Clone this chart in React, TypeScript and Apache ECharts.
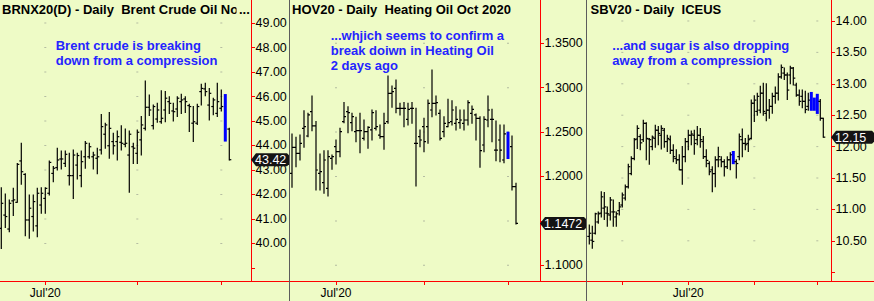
import React, { useEffect, useRef } from 'react';
import * as echarts from 'echarts';

// Daily bars: [open, high, low, close]
type Bar = [number, number, number, number];

// ICE Brent Crude Nov 2020 (BRNX20), 16 Jun 2020 – 3 Sep 2020
const brentBars: Bar[] = [
  [40.62, 42.28, 39.8, 41.64], [41.16, 42.02, 40.65, 41.1], [40.59, 41.78, 40.48, 41.64], [41.74, 42.25, 41.14, 41.78],
  [41.68, 43.27, 41.68, 43.23], [43.37, 44.09, 42.42, 42.93], [42.82, 42.85, 40.32, 40.96], [40.96, 41.98, 40.21, 41.44],
  [41.1, 41.98, 40.51, 41.71], [40.72, 42.25, 40.28, 42.05], [41.57, 42.28, 41.23, 42.05], [41.84, 42.28, 41.23, 42.25],
  [42.05, 43.37, 41.98, 43.31], [42.86, 43.14, 42.52, 43.07], [43.1, 43.89, 43.0, 43.41], [43.45, 43.78, 43.04, 43.45],
  [43.27, 43.78, 43.14, 43.64], [42.77, 43.68, 42.39, 42.77], [42.77, 43.82, 41.84, 43.61], [43.2, 43.68, 42.63, 43.59],
  [42.77, 43.78, 42.32, 43.34], [43.54, 44.16, 43.07, 44.09], [43.54, 44.09, 43.48, 43.95], [43.54, 43.72, 43.04, 43.61],
  [43.48, 43.89, 42.85, 43.54], [43.82, 45.27, 43.65, 44.77], [44.46, 44.91, 43.89, 44.84], [43.99, 45.35, 43.48, 44.7],
  [44.16, 44.5, 43.65, 43.99], [44.16, 44.59, 43.41, 44.36], [44.13, 44.81, 43.82, 44.09], [44.05, 44.67, 43.95, 44.09],
  [43.61, 44.59, 42.09, 44.46], [43.95, 44.09, 43.27, 43.89], [43.68, 44.63, 43.27, 44.54], [44.23, 45.18, 43.61, 44.84],
  [44.7, 46.63, 44.63, 45.56], [45.56, 46.06, 45.22, 45.45], [44.81, 45.65, 44.67, 45.59], [45.08, 45.72, 44.95, 45.45],
  [44.97, 46.23, 44.91, 45.11], [45.45, 46.2, 44.97, 45.93], [45.79, 45.99, 45.31, 45.72], [45.41, 45.72, 45.0, 45.38],
  [45.49, 45.99, 45.18, 45.93], [45.79, 46.09, 45.31, 45.86], [45.9, 45.99, 45.35, 45.79], [45.63, 45.68, 44.57, 45.59],
  [44.91, 45.59, 44.16, 44.97], [44.91, 45.68, 44.86, 45.59], [46.2, 46.5, 45.65, 46.33], [46.31, 46.54, 46.03, 46.2],
  [45.65, 46.33, 45.04, 46.13], [45.59, 45.93, 45.25, 45.86], [45.31, 46.54, 45.18, 45.79], [45.52, 46.27, 45.41, 45.59],
  [46.05, 46.1, 44.16, 44.2], [44.67, 44.7, 43.41, 43.42],
];

// NYMEX Heating Oil Oct 2020 (HOV20), 16 Jun 2020 – 3 Sep 2020
const heatingBars: Bar[] = [
  [1.2036, 1.2479, 1.1878, 1.2329], [1.2329, 1.2441, 1.2111, 1.2261], [1.2261, 1.2467, 1.2186, 1.2374], [1.2542, 1.2741, 1.2329, 1.2561],
  [1.2456, 1.2711, 1.2449, 1.2693], [1.273, 1.2907, 1.2516, 1.2569], [1.2569, 1.2618, 1.1848, 1.2073], [1.2036, 1.2253, 1.1848, 1.2054],
  [1.1931, 1.2291, 1.181, 1.2186], [1.1867, 1.2291, 1.178, 1.2223], [1.2205, 1.2242, 1.2081, 1.2223], [1.2336, 1.2411, 1.2141, 1.228],
  [1.228, 1.2542, 1.2223, 1.2505], [1.2618, 1.2832, 1.2606, 1.2674], [1.273, 1.2786, 1.2494, 1.2719], [1.2606, 1.2711, 1.2516, 1.2674],
  [1.2505, 1.2666, 1.2392, 1.2516], [1.2516, 1.2711, 1.2268, 1.2516], [1.243, 1.2636, 1.2411, 1.2505], [1.2505, 1.2561, 1.2317, 1.2554],
  [1.2524, 1.2749, 1.2411, 1.2719], [1.2542, 1.2741, 1.2524, 1.2561], [1.2467, 1.258, 1.243, 1.2449], [1.2449, 1.2711, 1.2306, 1.2599],
  [1.2618, 1.3132, 1.2599, 1.2937], [1.2937, 1.3019, 1.2779, 1.2955], [1.2993, 1.3087, 1.2719, 1.2768], [1.2768, 1.2824, 1.2693, 1.2768],
  [1.2768, 1.2832, 1.2561, 1.2768], [1.2644, 1.2824, 1.258, 1.2756], [1.2768, 1.2832, 1.2599, 1.2768], [1.2374, 1.2768, 1.1893, 1.2374],
  [1.2449, 1.2524, 1.2336, 1.2411], [1.2561, 1.2655, 1.228, 1.2392], [1.2561, 1.2862, 1.2374, 1.2824], [1.2749, 1.3199, 1.2674, 1.2824],
  [1.2824, 1.2907, 1.2693, 1.2832], [1.2711, 1.2749, 1.2411, 1.243], [1.2505, 1.2674, 1.2449, 1.2599], [1.2561, 1.2869, 1.2561, 1.2606],
  [1.2618, 1.2854, 1.258, 1.2749], [1.2599, 1.2786, 1.2524, 1.2644], [1.2606, 1.2749, 1.2542, 1.2636], [1.2599, 1.2749, 1.2524, 1.2636],
  [1.2636, 1.2854, 1.258, 1.2832], [1.2711, 1.2794, 1.2599, 1.2756], [1.2693, 1.2704, 1.2411, 1.2655], [1.2655, 1.2674, 1.2103, 1.2291],
  [1.2355, 1.2674, 1.228, 1.2644], [1.2636, 1.2907, 1.2561, 1.2749], [1.2644, 1.2756, 1.2392, 1.2644], [1.2298, 1.2625, 1.2178, 1.2298],
  [1.2411, 1.258, 1.2167, 1.2298], [1.2186, 1.258, 1.2156, 1.2479], [1.249, 1.2505, 1.2197, 1.221], [1.2336, 1.2456, 1.1848, 1.1886],
  [1.1886, 1.1923, 1.1465, 1.1472],
];

// ICE Sugar No. 11 Oct 2020 (SBV20), 14 May 2020 – 3 Sep 2020
const sugarBars: Bar[] = [
  [10.57, 10.75, 10.45, 10.62], [10.51, 10.73, 10.38, 10.49], [10.62, 10.94, 10.61, 10.93], [10.8, 10.96, 10.78, 10.93],
  [10.94, 11.28, 10.88, 11.2], [11.02, 11.27, 10.84, 11.04], [10.94, 11.04, 10.73, 10.93], [10.91, 11.19, 10.83, 11.15],
  [10.96, 11.15, 10.73, 10.96], [10.88, 10.96, 10.73, 10.93], [10.98, 11.11, 10.91, 11.04], [11.07, 11.26, 11.04, 11.23],
  [11.18, 11.39, 11.15, 11.36], [11.36, 11.72, 11.34, 11.68], [11.57, 11.84, 11.55, 11.81], [11.81, 12.13, 11.79, 12.11],
  [12.12, 12.33, 11.97, 12.29], [12.16, 12.19, 11.95, 12.06], [12.11, 12.42, 12.08, 12.37], [12.37, 12.38, 11.79, 12.13],
  [12.12, 12.13, 11.72, 12.11], [12.0, 12.17, 11.95, 12.15], [12.13, 12.34, 11.99, 12.26], [12.26, 12.32, 12.03, 12.21],
  [12.18, 12.33, 11.96, 12.29], [12.26, 12.29, 11.99, 12.08], [12.08, 12.18, 11.92, 12.13], [12.11, 12.17, 11.89, 11.94],
  [11.94, 12.03, 11.76, 11.84], [11.81, 11.95, 11.73, 11.79], [11.79, 11.87, 11.63, 11.63], [11.63, 12.0, 11.4, 11.84],
  [11.84, 12.13, 11.76, 12.08], [12.08, 12.26, 11.95, 12.18], [12.18, 12.25, 12.03, 12.2], [12.18, 12.26, 11.88, 12.05],
  [12.11, 12.32, 12.03, 12.18], [12.18, 12.29, 11.99, 12.11], [12.08, 12.16, 11.81, 11.84], [11.84, 11.95, 11.68, 11.78],
  [11.73, 11.76, 11.55, 11.6], [11.63, 11.68, 11.28, 11.57], [11.57, 11.84, 11.36, 11.79], [11.79, 11.99, 11.68, 11.84],
  [11.79, 11.84, 11.68, 11.76], [11.76, 11.79, 11.53, 11.68], [11.68, 11.84, 11.65, 11.79], [11.79, 11.9, 11.63, 11.87],
  [11.9, 11.93, 11.72, 11.75], [11.76, 11.79, 11.5, 11.73], [11.84, 12.2, 11.79, 12.16], [12.11, 12.28, 11.84, 12.05],
  [12.05, 12.13, 11.95, 12.03], [12.05, 12.18, 11.92, 12.11], [12.13, 12.74, 12.12, 12.69], [12.69, 12.81, 12.4, 12.74],
  [12.56, 12.85, 12.5, 12.8], [12.58, 12.96, 12.54, 12.85], [12.85, 13.01, 12.5, 12.56], [12.53, 13.0, 12.41, 12.58],
  [12.58, 12.75, 12.45, 12.64], [12.64, 12.85, 12.53, 12.8], [12.8, 12.95, 12.69, 12.85], [12.85, 13.16, 12.74, 13.11],
  [13.11, 13.3, 13.09, 13.26], [13.17, 13.25, 13.07, 13.14], [13.14, 13.17, 12.75, 12.9], [13.14, 13.28, 13.0, 13.25],
  [13.25, 13.26, 12.98, 13.09], [12.98, 13.01, 12.8, 12.82], [12.82, 12.9, 12.66, 12.72], [12.8, 12.9, 12.62, 12.72],
  [12.72, 12.88, 12.54, 12.59], [12.64, 12.85, 12.58, 12.74], [12.85, 12.87, 12.57, 12.6], [12.75, 12.78, 12.57, 12.6],
  [12.8, 12.84, 12.52, 12.55], [12.72, 12.75, 12.42, 12.45], [12.45, 12.45, 12.15, 12.15],
];

// Sessions painted as solid blue bars
const brentHighlight = ['2020-09-02'];
const heatingHighlight = ['2020-09-01'];
const sugarHighlight = ['2020-07-23', '2020-08-28', '2020-08-31', '2020-09-01'];

// Price scale ticks and labels (1.1500 sits under the last-price tag)
const brentTicks = [39, 40, 41, 42, 43, 44, 45, 46, 47, 48, 49];
const brentLabels = [40, 41, 42, 43, 44, 45, 46, 47, 48, 49];
const heatingTicks = [1.1, 1.15, 1.2, 1.25, 1.3, 1.35];
const heatingLabels = [1.1, 1.2, 1.25, 1.3, 1.35];
const sugarTicks = [10, 10.5, 11, 11.5, 12, 12.5, 13, 13.5, 14];
const sugarLabels = [10.5, 11, 11.5, 12, 12.5, 13, 13.5, 14];

// Time axis: only July carries a label
const labelledMonths = ['2020-07'];
const monthNames = ['Jan', 'Feb', 'Mar', 'Apr', 'May', 'Jun', 'Jul', 'Aug', 'Sep', 'Oct', 'Nov', 'Dec'];

const titles = [
  'BRNX20(D) - Daily  Brent Crude Oil No',
  'HOV20 - Daily  Heating Oil Oct 2020',
  'SBV20 - Daily  ICEUS',
];
const notes = [
  'Brent crude is breaking\ndown from a compression',
  '...whjich seems to confirm a\nbreak doiwn in Heating Oil\n2 days ago',
  '...and sugar is also dropping\naway from a compression',
];

// Exchange trading calendar (weekdays minus closures)
function tradingDays(from: string, to: string, closed: string[]): string[] {
  const out: string[] = [];
  const d = new Date(from + 'T00:00:00Z');
  const end = new Date(to + 'T00:00:00Z');
  while (d <= end) {
    const wd = d.getUTCDay();
    const iso = d.toISOString().slice(0, 10);
    if (wd !== 0 && wd !== 6 && !closed.includes(iso)) out.push(iso);
    d.setUTCDate(d.getUTCDate() + 1);
  }
  return out;
}

const brentDates = tradingDays('2020-06-16', '2020-09-03', []);
const heatingDates = tradingDays('2020-06-16', '2020-09-03', ['2020-07-03']);
const sugarDates = tradingDays('2020-05-14', '2020-09-03', ['2020-05-25', '2020-07-03']);

function monthStarts(dates: string[]): number[] {
  const idx: number[] = [];
  for (let i = 1; i < dates.length; i++) {
    if (dates[i].slice(0, 7) !== dates[i - 1].slice(0, 7)) idx.push(i);
  }
  return idx;
}

const BG = '#EEFBC6';
const RED = '#FF0000';
const FONT = '"Liberation Sans", Arial, sans-serif';
const PLOT_HEIGHT = 281;
const TAG_HALF = 6.5;

const panels = [
  {
    bars: brentBars, dates: brentDates, highlight: brentHighlight, ticks: brentTicks, labels: brentLabels,
    decimals: 2, title: titles[0], note: notes[0],
    left: 0, width: 289, firstBarX: 1.3, step: 4, yMax: 49.939, yMin: 38.469, axisX: 251,
    titleX: 2, noteX: 55.7, noteY: 38.2,
  },
  {
    bars: heatingBars, dates: heatingDates, highlight: heatingHighlight, ticks: heatingTicks, labels: heatingLabels,
    decimals: 4, title: titles[1], note: notes[1],
    left: 290, width: 296, firstBarX: 292, step: 4, yMax: 1.39876, yMin: 1.08232, axisX: 540,
    titleX: 292, noteX: 330.7, noteY: 28.2,
  },
  {
    bars: sugarBars, dates: sugarDates, highlight: sugarHighlight, ticks: sugarTicks, labels: sugarLabels,
    decimals: 2, title: titles[2], note: notes[2],
    left: 587, width: 287, firstBarX: 589.3, step: 3, yMax: 14.334, yMin: 9.86, axisX: 831,
    titleX: 590.5, noteX: 612.3, noteY: 38.2,
  },
];

function buildOption() {
  const grid = panels.map((p) => ({ left: p.left, top: 0, width: p.width, height: PLOT_HEIGHT }));

  const xAxis = panels.map((p, n) => {
    const starts = monthStarts(p.dates);
    const labelled = starts.filter((i) => labelledMonths.includes(p.dates[i].slice(0, 7)));
    return {
      type: 'value',
      gridIndex: n,
      min: (p.left - p.firstBarX) / p.step,
      max: (p.left + p.width - p.firstBarX) / p.step,
      axisLine: { show: true, onZero: false, lineStyle: { color: RED, width: 1 } },
      axisTick: { show: true, length: 4, customValues: starts, lineStyle: { color: RED, width: 1 } },
      axisLabel: {
        show: true,
        customValues: labelled,
        margin: 6,
        fontSize: 12,
        fontFamily: FONT,
        color: '#000',
        formatter: (v: number) => {
          const d = p.dates[Math.round(v)];
          if (!d) return '';
          return monthNames[Number(d.slice(5, 7)) - 1] + "'" + d.slice(2, 4);
        },
      },
      splitLine: { show: false },
    };
  });

  const yAxis = panels.map((p, n) => ({
    type: 'value',
    gridIndex: n,
    position: 'right',
    offset: p.axisX - (p.left + p.width),
    min: p.yMin,
    max: p.yMax,
    axisLine: { show: true, onZero: false, lineStyle: { color: RED, width: 1 } },
    axisTick: { show: true, length: 4, customValues: p.ticks, lineStyle: { color: RED, width: 1 } },
    axisLabel: {
      show: true,
      customValues: p.labels,
      margin: 4.5,
      fontSize: 12.5,
      fontFamily: FONT,
      color: '#000',
      formatter: (v: number) => v.toFixed(p.decimals),
    },
    splitLine: { show: false },
  }));

  const barSeries = panels.map((p, n) => ({
    type: 'custom',
    xAxisIndex: n,
    yAxisIndex: n,
    z: 3,
    silent: true,
    clip: false,
    encode: { x: 0, y: [1, 2, 3, 4] },
    data: p.bars.map((b, i) => [i, b[0], b[1], b[2], b[3], p.highlight.includes(p.dates[i]) ? 1 : 0]),
    renderItem: (params: any, api: any) => {
      const i = api.value(0);
      const o = api.value(1);
      const h = api.value(2);
      const l = api.value(3);
      const c = api.value(4);
      const hi = api.value(5);
      const top = api.coord([i, h]);
      const bot = api.coord([i, l]);
      const x = top[0];
      const children: any[] = [];
      if (hi) {
        children.push({
          type: 'rect',
          shape: { x: x - 1.5, y: top[1], width: 3, height: Math.max(1, bot[1] - top[1]) },
          style: { fill: '#0000FF' },
        });
      } else {
        const oy = api.coord([i, o])[1];
        const cy = api.coord([i, c])[1];
        const stroke = { stroke: '#000', lineWidth: 1.2 };
        children.push({ type: 'line', shape: { x1: x, y1: top[1] - 0.5, x2: x, y2: bot[1] + 0.5 }, style: stroke });
        children.push({ type: 'line', shape: { x1: x - 2, y1: oy, x2: x, y2: oy }, style: stroke });
        children.push({ type: 'line', shape: { x1: x, y1: cy, x2: x + 2, y2: cy }, style: stroke });
      }
      // Last-price tag on the price scale
      if (params.dataIndex === p.bars.length - 1) {
        const cs = params.coordSys;
        const right = cs.x + cs.width;
        const ax = p.axisX;
        const cy = api.coord([i, c])[1];
        children.push({
          type: 'polygon',
          z2: 10,
          shape: {
            points: [
              [ax, cy], [ax + 5, cy - TAG_HALF], [right - 2, cy - TAG_HALF], [right, cy - TAG_HALF + 2],
              [right, cy + TAG_HALF - 2], [right - 2, cy + TAG_HALF], [ax + 5, cy + TAG_HALF],
            ],
          },
          style: { fill: '#141414' },
        });
        children.push({
          type: 'text',
          z2: 11,
          x: ax + 4,
          y: cy + 0.5,
          style: {
            text: c.toFixed(p.decimals),
            fill: '#FFFFFF',
            fontSize: 12.5,
            fontFamily: FONT,
            align: 'left',
            verticalAlign: 'middle',
            textAlign: 'left',
            textVerticalAlign: 'middle',
          },
        });
      }
      return { type: 'group', children };
    },
  }));

  // Dotted grid: one dot per month tick and price level
  const dotSeries = panels.map((p, n) => {
    const starts = monthStarts(p.dates);
    const minLabel = Math.min(...p.labels);
    const levels = p.ticks.filter((v) => v >= minLabel);
    const pts: number[][] = [];
    starts.forEach((m) => levels.forEach((v) => pts.push([m, v])));
    return {
      type: 'scatter',
      xAxisIndex: n,
      yAxisIndex: n,
      silent: true,
      z: 1,
      symbol: 'rect',
      symbolSize: [2, 1],
      itemStyle: { color: '#A6AE98' },
      data: pts,
    };
  });

  const graphic: any[] = [];
  panels.forEach((p) => {
    graphic.push({
      type: 'text',
      x: p.titleX,
      y: 2.5,
      z: 20,
      style: {
        text: p.title,
        fill: '#000',
        fontSize: 13,
        fontWeight: 'bold',
        fontFamily: FONT,
        align: 'left',
        verticalAlign: 'top',
        textAlign: 'left',
        textVerticalAlign: 'top',
      },
    });
    graphic.push({
      type: 'text',
      x: p.noteX,
      y: p.noteY,
      z: 20,
      style: {
        text: p.note,
        fill: '#2424FF',
        fontSize: 13,
        fontWeight: 'bold',
        fontFamily: FONT,
        lineHeight: 15,
        align: 'left',
        verticalAlign: 'top',
        textAlign: 'left',
        textVerticalAlign: 'top',
      },
    });
  });
  // Truncation of the first title before the price scale
  graphic.push({ type: 'rect', z: 21, shape: { x: 236.5, y: 1, width: 14, height: 17 }, style: { fill: BG } });
  graphic.push({
    type: 'text',
    x: 239,
    y: 2.5,
    z: 22,
    style: {
      text: '...',
      fill: '#000',
      fontSize: 13,
      fontWeight: 'bold',
      fontFamily: FONT,
      align: 'left',
      verticalAlign: 'top',
      textAlign: 'left',
      textVerticalAlign: 'top',
    },
  });
  // Panel separators
  [289.5, 586.5].forEach((x) => {
    graphic.push({
      type: 'line',
      z: 25,
      shape: { x1: x, y1: 0, x2: x, y2: 301 },
      style: { stroke: '#5C5C5C', lineWidth: 1 },
    });
  });

  return {
    animation: false,
    backgroundColor: BG,
    grid,
    xAxis,
    yAxis,
    series: [...dotSeries, ...barSeries],
    graphic,
  };
}

export default function App() {
  const ref = useRef<HTMLDivElement>(null);
  useEffect(() => {
    if (!ref.current) return;
    const chart = echarts.init(ref.current, undefined, { renderer: 'svg' });
    chart.setOption(buildOption() as any);
    return () => chart.dispose();
  }, []);
  return (
    <div
      ref={ref}
      style={{ position: 'fixed', left: 0, top: 0, width: 874, height: 301 }}
    />
  );
}
